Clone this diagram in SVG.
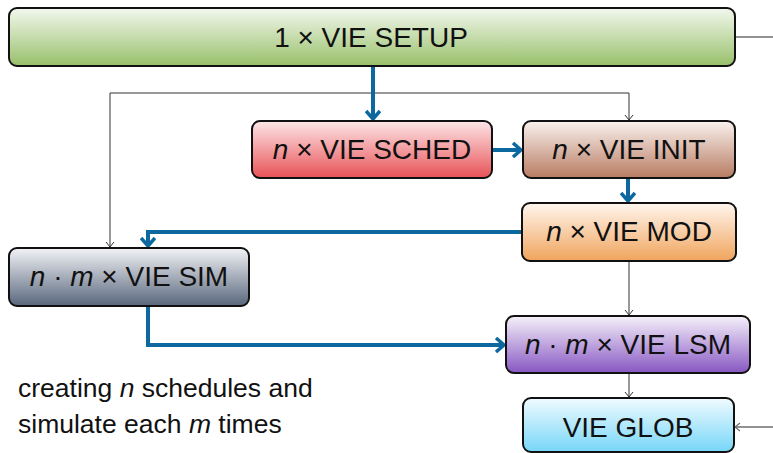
<svg xmlns="http://www.w3.org/2000/svg" width="773" height="453" viewBox="0 0 773 453">
<style>
.box{stroke:#111;stroke-width:2}
.lbl{font-family:"Liberation Sans",Arial,sans-serif;font-size:28px;fill:#111;text-anchor:middle}
.note{font-family:"Liberation Sans",Arial,sans-serif;font-size:26.5px;fill:#111}
.it{font-style:italic}
.blue{fill:none;stroke:#0d689f;stroke-width:4}
.thin{fill:none;stroke:#333;stroke-width:1}
.gray{fill:none;stroke:#6e6e6e;stroke-width:1.5}
</style>
<defs>
<linearGradient id="gGreen" x1="0" y1="0" x2="0" y2="1"><stop offset="0" stop-color="#f3f8ee"/><stop offset="1" stop-color="#98c06a"/></linearGradient>
<linearGradient id="gRed" x1="0" y1="0" x2="0" y2="1"><stop offset="0" stop-color="#fde6e8"/><stop offset="1" stop-color="#e85256"/></linearGradient>
<linearGradient id="gBrown" x1="0" y1="0" x2="0" y2="1"><stop offset="0" stop-color="#faf1ee"/><stop offset="1" stop-color="#b77c62"/></linearGradient>
<linearGradient id="gOrange" x1="0" y1="0" x2="0" y2="1"><stop offset="0" stop-color="#fff6ef"/><stop offset="1" stop-color="#f0a45c"/></linearGradient>
<linearGradient id="gSlate" x1="0" y1="0" x2="0" y2="1"><stop offset="0" stop-color="#f2f3f6"/><stop offset="1" stop-color="#59677d"/></linearGradient>
<linearGradient id="gPurple" x1="0" y1="0" x2="0" y2="1"><stop offset="0" stop-color="#f6f1fa"/><stop offset="1" stop-color="#8757c2"/></linearGradient>
<linearGradient id="gCyan" x1="0" y1="0" x2="0" y2="1"><stop offset="0" stop-color="#f1fbff"/><stop offset="1" stop-color="#76d6f8"/></linearGradient>
<marker id="mBlue" viewBox="-10 -8 12 16" markerWidth="12" markerHeight="16" refX="0" refY="0" orient="auto" markerUnits="userSpaceOnUse">
<path d="M-8,-7 L0,0 L-8,7" fill="none" stroke="#0d689f" stroke-width="3.5"/>
</marker>
<marker id="mThin" viewBox="-7 -5 8 10" markerWidth="8" markerHeight="10" refX="0" refY="0" orient="auto" markerUnits="userSpaceOnUse">
<path d="M-5,-4 L0,0 L-5,4" fill="none" stroke="#333" stroke-width="1"/>
</marker>
<marker id="mGray" viewBox="-7 -5 8 10" markerWidth="8" markerHeight="10" refX="0" refY="0" orient="auto" markerUnits="userSpaceOnUse">
<path d="M-5,-4 L0,0 L-5,4" fill="none" stroke="#6e6e6e" stroke-width="1.2"/>
</marker>
</defs>
<g id="connectors">
<path class="thin" d="M373 93 H110 V247" marker-end="url(#mThin)"/>
<path class="thin" d="M373 93 H629 V120" marker-end="url(#mThin)"/>
<path class="blue" d="M373 67 V119" marker-end="url(#mBlue)"/>
<path class="blue" d="M493 150 H521" marker-end="url(#mBlue)"/>
<path class="blue" d="M628 179 V201" marker-end="url(#mBlue)"/>
<path class="blue" d="M522 232 H148 V246" marker-end="url(#mBlue)"/>
<path class="blue" d="M148 307 V345 H504" marker-end="url(#mBlue)"/>
<path class="thin" d="M629 262 V315" marker-end="url(#mThin)"/>
<path class="thin" d="M629 374 V397" marker-end="url(#mThin)"/>
<path class="gray" d="M736 37 H773"/>
<path class="gray" d="M773 427 H735" marker-end="url(#mGray)"/>
</g>
<g id="setup">
<rect class="box" x="9" y="8" width="726" height="58" rx="8" fill="url(#gGreen)"/>
<text class="lbl" x="371" y="47">1 × VIE SETUP</text>
</g>
<g id="sched">
<rect class="box" x="252" y="121" width="240" height="57" rx="8" fill="url(#gRed)"/>
<text class="lbl" x="372" y="159"><tspan class="it">n</tspan> × VIE SCHED</text>
</g>
<g id="init">
<rect class="box" x="523" y="121" width="212" height="57" rx="8" fill="url(#gBrown)"/>
<text class="lbl" x="629" y="159"><tspan class="it">n</tspan> × VIE INIT</text>
</g>
<g id="mod">
<rect class="box" x="522" y="203" width="214" height="58" rx="8" fill="url(#gOrange)"/>
<text class="lbl" x="629" y="241"><tspan class="it">n</tspan> × VIE MOD</text>
</g>
<g id="sim">
<rect class="box" x="9" y="248" width="240" height="58" rx="8" fill="url(#gSlate)"/>
<text class="lbl" x="129" y="286"><tspan class="it">n</tspan> · <tspan class="it">m</tspan> × VIE SIM</text>
</g>
<g id="lsm">
<rect class="box" x="506" y="316" width="244" height="57" rx="8" fill="url(#gPurple)"/>
<text class="lbl" x="628" y="354"><tspan class="it">n</tspan> · <tspan class="it">m</tspan> × VIE LSM</text>
</g>
<g id="glob">
<rect class="box" x="523" y="398" width="211" height="54" rx="8" fill="url(#gCyan)"/>
<text class="lbl" x="628" y="437">VIE GLOB</text>
</g>
<g id="note">
<text class="note" x="18" y="397">creating <tspan class="it">n</tspan> schedules and</text>
<text class="note" x="18" y="433">simulate each <tspan class="it">m</tspan> times</text>
</g>
</svg>
